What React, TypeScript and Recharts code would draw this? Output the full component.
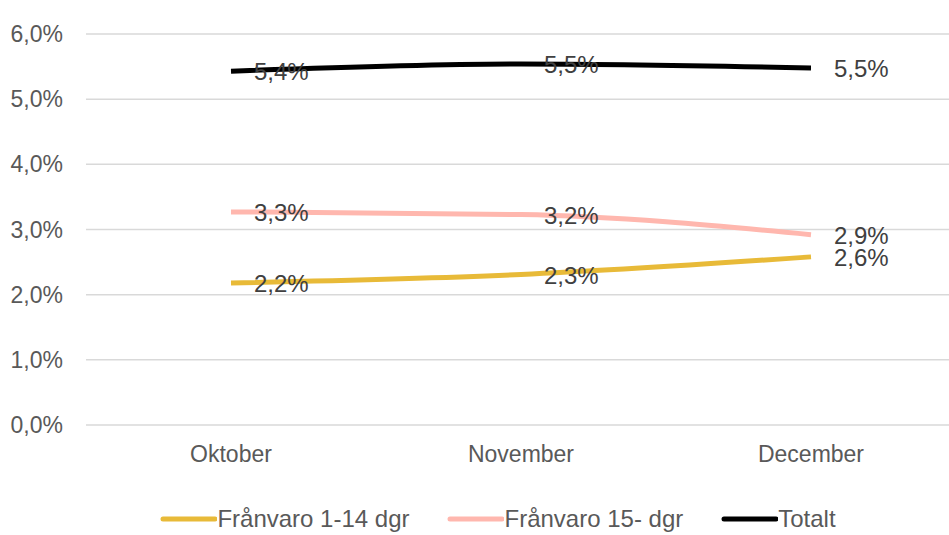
import { LineChart, Line, XAxis, YAxis, CartesianGrid, Legend, LabelList } from "recharts";

const months = ["Oktober", "November", "December"];
const kort = [2.18, 2.31, 2.58];
const lang = [3.27, 3.23, 2.92];
const totalt = [5.43, 5.54, 5.48];
const yTicks = [0, 1, 2, 3, 4, 5, 6];

const data = months.map((m, i) => ({
  month: m,
  kort: kort[i],
  lang: lang[i],
  totalt: totalt[i],
}));

const pct = (v: number) => `${v.toFixed(1).replace(".", ",")}%`;

const FONT = "'Liberation Sans', Arial, sans-serif";

function ValueLabel(props: any) {
  const { x, y, value } = props;
  return (
    <text
      x={x + 23}
      y={y + 3}
      fill="#404040"
      fontSize={24}
      fontFamily={FONT}
      textAnchor="start"
      dominantBaseline="middle"
    >
      {pct(value)}
    </text>
  );
}

const legendItems = [
  { label: "Frånvaro 1-14 dgr", color: "#E8BA38" },
  { label: "Frånvaro 15- dgr", color: "#FFB7AE" },
  { label: "Totalt", color: "#000000" },
];

function LegendBox() {
  return (
    <div style={{ display: "flex", justifyContent: "center", gap: 38, fontFamily: FONT, fontSize: 24, color: "#595959", lineHeight: "28px", paddingLeft: 40 }}>
      {legendItems.map((it) => (
        <div key={it.label} style={{ display: "flex", alignItems: "center" }}>
          <svg width={57} height={10}>
            <line x1={3} y1={5} x2={55} y2={5} stroke={it.color} strokeWidth={5} strokeLinecap="round" />
          </svg>
          <span>{it.label}</span>
        </div>
      ))}
    </div>
  );
}

export default function App() {
  return (
    <div style={{ position: "absolute", left: 0, top: 0, width: 949, height: 535, overflow: "hidden", background: "#fff" }}>
      <LineChart width={960} height={535} data={data} margin={{ top: 34, right: 4, left: 0, bottom: 0 }}>
        <CartesianGrid vertical={false} stroke="#d9d9d9" strokeWidth={1.5} />
        <XAxis
          dataKey="month"
          axisLine={false}
          tickLine={false}
          height={80}
          padding={{ left: 145, right: 145 }}
          tick={{ fontSize: 23, fill: "#595959", fontFamily: FONT }}
          tickMargin={15}
        />
        <YAxis
          domain={[0, 6]}
          ticks={yTicks}
          tickFormatter={pct}
          axisLine={false}
          tickLine={false}
          width={86}
          tick={{ fontSize: 23, fill: "#595959", fontFamily: FONT }}
          tickMargin={17}
        />
        <Legend verticalAlign="bottom" height={30} content={<LegendBox />} />
        <Line type="monotone" dataKey="kort" stroke="#E8BA38" strokeWidth={5} dot={false} isAnimationActive={false}>
          <LabelList dataKey="kort" content={<ValueLabel />} />
        </Line>
        <Line type="monotone" dataKey="lang" stroke="#FFB7AE" strokeWidth={5} dot={false} isAnimationActive={false}>
          <LabelList dataKey="lang" content={<ValueLabel />} />
        </Line>
        <Line type="monotone" dataKey="totalt" stroke="#000000" strokeWidth={5} dot={false} isAnimationActive={false}>
          <LabelList dataKey="totalt" content={<ValueLabel />} />
        </Line>
      </LineChart>
    </div>
  );
}
